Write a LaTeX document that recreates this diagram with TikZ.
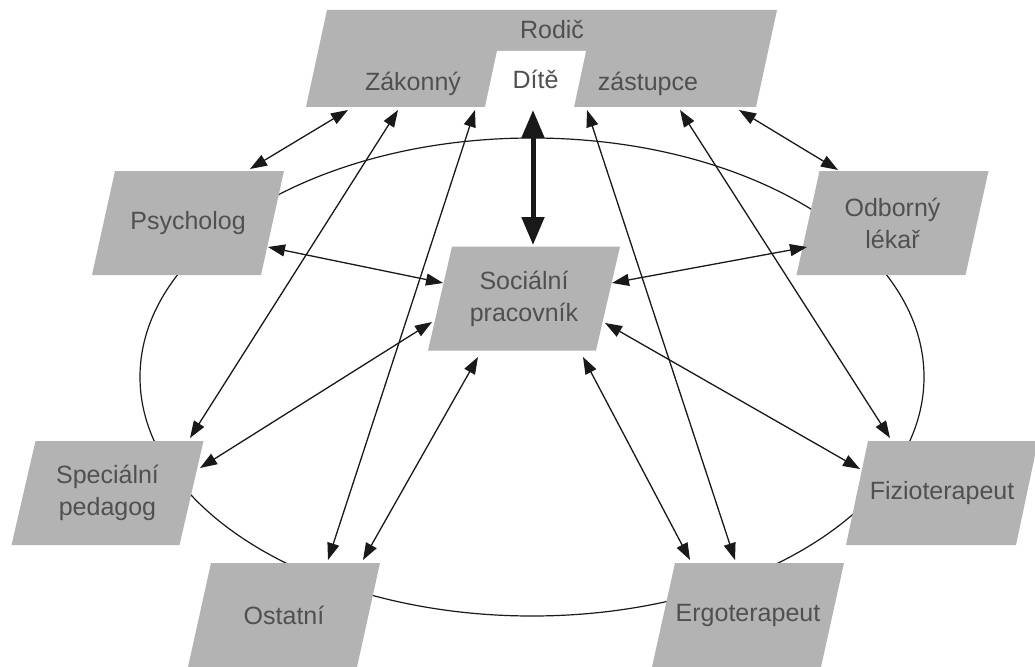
\documentclass[tikz,border=0pt]{standalone}
\usepackage{fontspec}
\setmainfont{Liberation Sans}
\usetikzlibrary{arrows.meta,calc,backgrounds}
\definecolor{boxgray}{RGB}{179,179,179}
\definecolor{txtgray}{RGB}{80,80,80}
\definecolor{linek}{RGB}{25,25,25}
\newcommand{\pgram}[3]{\fill[#3] (#1.south west) -- ($(#1.south east)-(#2,0)$) -- (#1.north east) -- ($(#1.north west)+(#2,0)$) -- cycle;}
\begin{document}
\begin{tikzpicture}[x=1pt,y=-1pt,
  pbox/.style={minimum width=192pt, minimum height=104pt, inner sep=0pt, outer sep=0pt,
    align=center, text=txtgray, font=\fontsize{25}{32}\selectfont},
  lbl/.style={text=txtgray, font=\fontsize{25}{32}\selectfont, inner sep=0pt, anchor=base},
  link/.style={draw=linek, line width=1.3pt,
    {Triangle[length=17pt,width=12pt]}-{Triangle[length=17pt,width=12pt]}},
  biglink/.style={draw=linek, line width=5pt,
    {Triangle[length=28pt,width=22pt]}-{Triangle[length=28pt,width=22pt]}}]
\useasboundingbox (0,0) rectangle (1035,666);
% boxes
\node[pbox] (psy) at (188,223) {Psycholog};
\node[pbox] (soc) at (524,298.5) {Sociální\\pracovník};
\node[pbox] (spe) at (107.5,493) {Speciální\\pedagog};
\node[pbox] (ost) at (284,615) {Ostatní};
\node[pbox] (odb) at (892.5,223) {Odborný\\lékař};
\node[pbox] (fiz) at (942,493) {Fizioterapeut};
\node[pbox] (erg) at (748,615) {Ergoterapeut};
\node[pbox, minimum width=471pt, minimum height=97pt] (rod) at (541.5,58.5) {};
\node[pbox, minimum width=101pt, minimum height=56pt] (dit) at (535.5,79) {Dítě};
\node[lbl] (rodt) at (552,39) {Rodič};
\node[lbl] (zak) at (413,91) {Zákonný};
\node[lbl] (zas) at (648,91) {zástupce};
\begin{scope}[on background layer]
  \fill[white] (0,0) rectangle (1035,666);
  \draw[linek, line width=1.2pt] (532,377) ellipse [x radius=392, y radius=239];
  \pgram{psy}{23}{boxgray}
  \pgram{soc}{24}{boxgray}
  \pgram{spe}{24}{boxgray}
  \pgram{ost}{23}{boxgray}
  \pgram{odb}{23}{boxgray}
  \pgram{fiz}{22}{boxgray}
  \pgram{erg}{23}{boxgray}
  \pgram{rod}{21}{boxgray}
  \pgram{dit}{12}{white}
\end{scope}
% connectors from Rodič / Dítě
\draw[link] ($(rod)+(-193.5,51.5)$) -- ($(psy)+(62,-54)$);
\draw[link] ($(rod)+(-143.5,51.5)$) -- ($(spe)+(82.5,-55)$);
\draw[link] ($(rod)+(-66.5,51.5)$) -- ($(ost)+(44,-55)$);
\draw[link] ($(rod)+(45.5,51.5)$) -- ($(erg)+(-13,-55)$);
\draw[link] ($(rod)+(138.5,51.5)$) -- ($(fiz)+(-52,-55)$);
\draw[link] ($(rod)+(197.5,51.5)$) -- ($(odb)+(-54.5,-53)$);
\draw[biglink] ($(dit)+(-2.5,31)$) -- ($(soc)+(9,-53.5)$);
% connectors from Sociální pracovník
\draw[link] ($(psy)+(80,24)$) -- ($(soc)+(-81,-15.5)$);
\draw[link] ($(soc)+(88,-15.5)$) -- ($(odb)+(-85.5,24)$);
\draw[link] ($(soc)+(-92,23.5)$) -- ($(spe)+(92.5,-25)$);
\draw[link] ($(soc)+(-46,58.5)$) -- ($(ost)+(79,-55)$);
\draw[link] ($(soc)+(59,58.5)$) -- ($(erg)+(-58,-55)$);
\draw[link] ($(soc)+(81,24.5)$) -- ($(fiz)+(-82,-24)$);
\end{tikzpicture}
\end{document}
